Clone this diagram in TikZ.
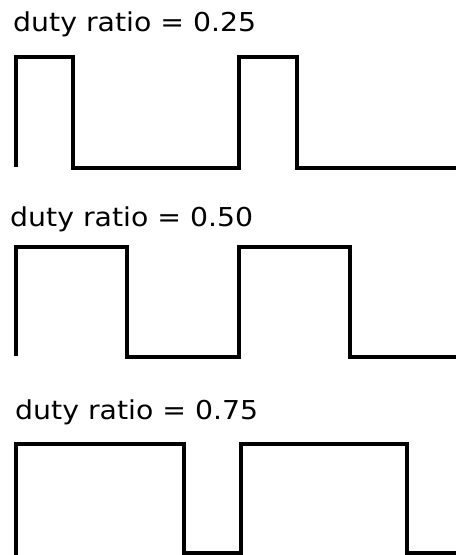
\documentclass[tikz,border=0pt]{standalone}
\usepackage{fontspec}
\setmainfont{DejaVu Sans}
\newcommand{\widelbl}[1]{\scalebox{1.09}[1]{#1}}
\begin{document}
\begin{tikzpicture}[x=1pt,y=-1pt,
  wave/.style={line width=4pt,black},
  lbl/.style={anchor=base west,inner sep=0pt,font=\fontsize{26}{30}\selectfont}]
\useasboundingbox (0,0) rectangle (456,555);
% labels
\node[lbl] (l1) at (13,31) {\widelbl{duty ratio = 0.25}};
\node[lbl] (l2) at (10,226) {\widelbl{duty ratio = 0.50}};
\node[lbl] (l3) at (15,419) {\widelbl{duty ratio = 0.75}};
% waveform 1
\draw[wave] (16,167) -- (16,57) -- (73,57) -- (73,168) -- (239,168) -- (239,57) -- (297,57) -- (297,168) -- (456,168);
% waveform 2
\draw[wave] (16,356) -- (16,247) -- (126.5,247) -- (126.5,357) -- (239,357) -- (239,247) -- (350,247) -- (350,357) -- (456,357);
% waveform 3
\draw[wave] (16,555) -- (16,443.5) -- (183.5,443.5) -- (183.5,553) -- (241,553) -- (241,443.5) -- (406.5,443.5) -- (406.5,553) -- (456,553);
\end{tikzpicture}
\end{document}
